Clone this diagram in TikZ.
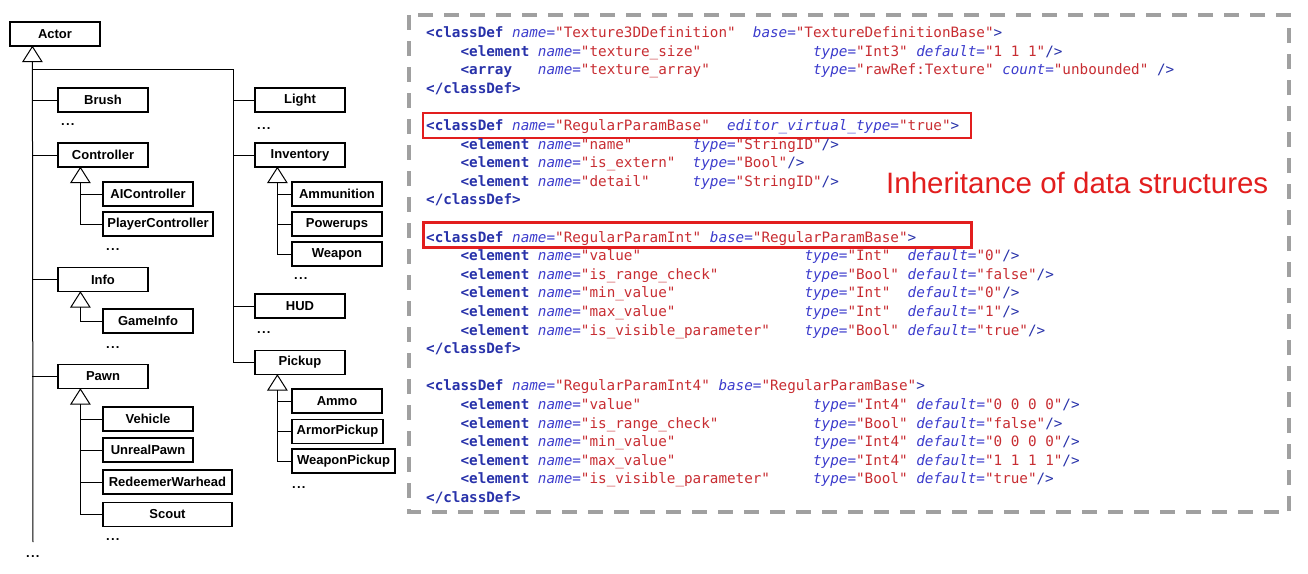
\documentclass[tikz,border=0pt]{standalone}
\usepackage{fontspec}
\setmainfont{Liberation Sans}
\newfontfamily\codefont{DejaVu Sans Mono}
\usetikzlibrary{calc}

\definecolor{tagc}{RGB}{40,50,170}
\definecolor{attc}{RGB}{60,60,205}
\definecolor{valc}{RGB}{200,45,50}
\definecolor{hlred}{RGB}{226,30,30}
\definecolor{panelgray}{RGB}{160,160,160}

\newlength\cw \setlength\cw{8.6pt}
\newcommand\sk[1]{\hspace*{#1\cw}}
\newcommand\qq{\char"22\relax}
\newcommand\Tg[1]{\textcolor{tagc}{\bfseries #1}}
\newcommand\Bl[1]{\textcolor{tagc}{#1}}
\newcommand\At[1]{\textcolor{attc}{{\itshape #1}=}}
\newcommand\Vl[1]{\textcolor{valc}{\qq #1\qq}}
\newcommand\dotsx{.\kern1.2pt.\kern1.2pt.}

\tikzset{
  cls/.style={draw=black, line width=1.2pt, fill=white, minimum height=24pt, minimum width=90pt, inner sep=0pt, font=\bfseries\fontsize{13}{15}\selectfont},
  link/.style={draw=black, line width=1pt},
  inh/.style={draw=black, line width=1pt, fill=white, line join=miter},
  more/.style={anchor=base west, inner sep=0pt, font=\bfseries\fontsize{13}{15}\selectfont},
  code/.style={anchor=base west, inner sep=0pt, font=\codefont\fontsize{14.28}{16}\selectfont},
  hlbox/.style={draw=hlred, line width=2.4pt, minimum width=548pt, minimum height=25pt, inner sep=0pt},
  panel/.style={draw=panelgray, line width=3.5pt, dash pattern=on 15pt off 11pt},
}

\newcommand\inhtri[1]{%
  \coordinate (#1-t) at ($(#1.south west)+(23,15)$);
  \draw[inh] ($(#1.south west)+(23,0)$) -- ($(#1-t)+(-9.5,0)$) -- ($(#1-t)+(9.5,0)$) -- cycle;}

\begin{document}
\begin{tikzpicture}[x=1pt,y=-1pt]
\fill[white] (0,0) rectangle (1308,573);
\useasboundingbox (0,0) rectangle (1308,573);

% ---------------- class tree ----------------
\node[cls] (Actor) at (55,34) {Actor};
\node[cls] (Brush) at (103,100) {Brush};
\node[cls] (Controller) at (103,155) {Controller};
\node[cls] (AIController) at (148,194) {AIController};
\node[cls, minimum width=110pt] (PlayerController) at (158,224) {PlayerController};
\node[cls] (Info) at (103,279.5) {Info};
\node[cls] (GameInfo) at (148,321) {GameInfo};
\node[cls] (Pawn) at (103,376.5) {Pawn};
\node[cls] (Vehicle) at (148,419) {Vehicle};
\node[cls] (UnrealPawn) at (148,450) {UnrealPawn};
\node[cls, minimum width=129pt] (RedeemerWarhead) at (167.5,482) {RedeemerWarhead};
\node[cls, minimum width=129pt] (Scout) at (167.5,514.5) {Scout};
\node[cls] (Light) at (300,100) {Light};
\node[cls] (Inventory) at (300,155) {Inventory};
\node[cls] (Ammunition) at (337,194) {Ammunition};
\node[cls] (Powerups) at (337,224) {Powerups};
\node[cls] (Weapon) at (337,254) {Weapon};
\node[cls] (HUD) at (300,306) {HUD};
\node[cls] (Pickup) at (300,362.5) {Pickup};
\node[cls] (Ammo) at (337,401) {Ammo};
\node[cls, minimum width=91pt] (ArmorPickup) at (337.5,431.5) {ArmorPickup};
\node[cls, minimum width=103pt] (WeaponPickup) at (343.5,461) {WeaponPickup};

\inhtri{Actor}
\inhtri{Controller}
\inhtri{Info}
\inhtri{Pawn}
\inhtri{Inventory}
\inhtri{Pickup}

\coordinate (trunkend) at (33,542);
\coordinate (rtop) at (233,69);

\draw[link] (Actor-t) -- (trunkend);
\foreach \n in {Brush,Controller,Info,Pawn} \draw[link] (\n.west) -- (\n.west -| Actor-t);
\draw[link] (rtop -| Actor-t) -- (rtop) -- (rtop |- Pickup.west) -- (Pickup.west);
\foreach \n in {Light,Inventory,HUD} \draw[link] (\n.west) -- (\n.west -| rtop);

\draw[link] (Controller-t) -- (Controller-t |- PlayerController.west);
\foreach \n in {AIController,PlayerController} \draw[link] (\n.west) -- (\n.west -| Controller-t);
\draw[link] (Info-t) -- (Info-t |- GameInfo.west) -- (GameInfo.west);
\draw[link] (Pawn-t) -- (Pawn-t |- Scout.west);
\foreach \n in {Vehicle,UnrealPawn,RedeemerWarhead,Scout} \draw[link] (\n.west) -- (\n.west -| Pawn-t);
\draw[link] (Inventory-t) -- (Inventory-t |- Weapon.west);
\foreach \n in {Ammunition,Powerups,Weapon} \draw[link] (\n.west) -- (\n.west -| Inventory-t);
\draw[link] (Pickup-t) -- (Pickup-t |- WeaponPickup.west);
\foreach \n in {Ammo,ArmorPickup,WeaponPickup} \draw[link] (\n.west) -- (\n.west -| Pickup-t);

\node[more] (d1) at (61,125) {\dotsx};
\node[more] (d2) at (106,250) {\dotsx};
\node[more] (d3) at (106,348) {\dotsx};
\node[more] (d4) at (106,540) {\dotsx};
\node[more] (d5) at (26,557) {\dotsx};
\node[more] (d6) at (257,129) {\dotsx};
\node[more] (d7) at (294,279) {\dotsx};
\node[more] (d8) at (257,333) {\dotsx};
\node[more] (d9) at (292,488) {\dotsx};

% ---------------- code panel ----------------
\draw[panel] (409,15) rectangle (1289,512);

\node[hlbox] (rb1) at (697,125.5) {};
\node[hlbox] (rb2) at (697.5,235) {};

\node[code] (c0) at (426,37.5) {\Tg{<classDef}\sk1\At{name}\Vl{Texture3DDefinition}\sk2\At{base}\Vl{TextureDefinitionBase}\Bl{>}};
\node[code] (c1) at (426,56.1) {\sk4\Tg{<element}\sk1\At{name}\Vl{texture\_size}\sk{13}\At{type}\Vl{Int3}\sk1\At{default}\Vl{1 1 1}\Bl{/>}};
\node[code] (c2) at (426,74.7) {\sk4\Tg{<array}\sk3\At{name}\Vl{texture\_array}\sk{12}\At{type}\Vl{rawRef:Texture}\sk1\At{count}\Vl{unbounded}\sk1\Bl{/>}};
\node[code] (c3) at (426,93.3) {\Tg{</classDef>}};

\node[code] (c5) at (426,130.5) {\Tg{<classDef}\sk1\At{name}\Vl{RegularParamBase}\sk2\At{editor\_virtual\_type}\Vl{true}\Bl{>}};
\node[code] (c6) at (426,149.1) {\sk4\Tg{<element}\sk1\At{name}\Vl{name}\sk7\At{type}\Vl{StringID}\Bl{/>}};
\node[code] (c7) at (426,167.7) {\sk4\Tg{<element}\sk1\At{name}\Vl{is\_extern}\sk2\At{type}\Vl{Bool}\Bl{/>}};
\node[code] (c8) at (426,186.3) {\sk4\Tg{<element}\sk1\At{name}\Vl{detail}\sk5\At{type}\Vl{StringID}\Bl{/>}};
\node[code] (c9) at (426,204.9) {\Tg{</classDef>}};

\node[code] (c11) at (426,242.1) {\Tg{<classDef}\sk1\At{name}\Vl{RegularParamInt}\sk1\At{base}\Vl{RegularParamBase}\Bl{>}};
\node[code] (c12) at (426,260.7) {\sk4\Tg{<element}\sk1\At{name}\Vl{value}\sk{19}\At{type}\Vl{Int}\sk2\At{default}\Vl{0}\Bl{/>}};
\node[code] (c13) at (426,279.3) {\sk4\Tg{<element}\sk1\At{name}\Vl{is\_range\_check}\sk{10}\At{type}\Vl{Bool}\sk1\At{default}\Vl{false}\Bl{/>}};
\node[code] (c14) at (426,297.9) {\sk4\Tg{<element}\sk1\At{name}\Vl{min\_value}\sk{15}\At{type}\Vl{Int}\sk2\At{default}\Vl{0}\Bl{/>}};
\node[code] (c15) at (426,316.5) {\sk4\Tg{<element}\sk1\At{name}\Vl{max\_value}\sk{15}\At{type}\Vl{Int}\sk2\At{default}\Vl{1}\Bl{/>}};
\node[code] (c16) at (426,335.1) {\sk4\Tg{<element}\sk1\At{name}\Vl{is\_visible\_parameter}\sk4\At{type}\Vl{Bool}\sk1\At{default}\Vl{true}\Bl{/>}};
\node[code] (c17) at (426,353.7) {\Tg{</classDef>}};

\node[code] (c19) at (426,390.9) {\Tg{<classDef}\sk1\At{name}\Vl{RegularParamInt4}\sk1\At{base}\Vl{RegularParamBase}\Bl{>}};
\node[code] (c20) at (426,409.5) {\sk4\Tg{<element}\sk1\At{name}\Vl{value}\sk{20}\At{type}\Vl{Int4}\sk1\At{default}\Vl{0 0 0 0}\Bl{/>}};
\node[code] (c21) at (426,428.1) {\sk4\Tg{<element}\sk1\At{name}\Vl{is\_range\_check}\sk{11}\At{type}\Vl{Bool}\sk1\At{default}\Vl{false}\Bl{/>}};
\node[code] (c22) at (426,446.7) {\sk4\Tg{<element}\sk1\At{name}\Vl{min\_value}\sk{16}\At{type}\Vl{Int4}\sk1\At{default}\Vl{0 0 0 0}\Bl{/>}};
\node[code] (c23) at (426,465.3) {\sk4\Tg{<element}\sk1\At{name}\Vl{max\_value}\sk{16}\At{type}\Vl{Int4}\sk1\At{default}\Vl{1 1 1 1}\Bl{/>}};
\node[code] (c24) at (426,483.9) {\sk4\Tg{<element}\sk1\At{name}\Vl{is\_visible\_parameter}\sk5\At{type}\Vl{Bool}\sk1\At{default}\Vl{true}\Bl{/>}};
\node[code] (c25) at (426,502.5) {\Tg{</classDef>}};

\node[anchor=base west, inner sep=0pt, text=hlred, font=\fontsize{29.5}{32}\selectfont] (title) at (886,193) {Inheritance of data structures};
\end{tikzpicture}
\end{document}
